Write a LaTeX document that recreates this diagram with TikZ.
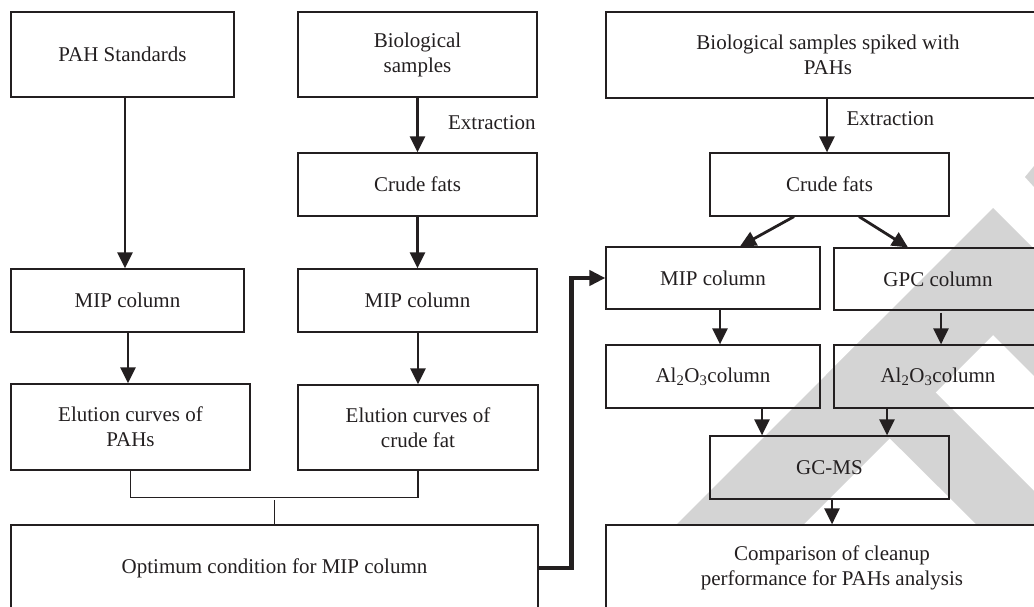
\documentclass[tikz,border=0pt]{standalone}
\usepackage{fontspec}
\setmainfont{Liberation Serif}
\usepackage{tikz}
\usetikzlibrary{arrows.meta}
\definecolor{ink}{RGB}{35,31,32}
\definecolor{wmgray}{RGB}{212,212,212}

\begin{document}
\begin{tikzpicture}[x=1pt, y=-1pt, font=\fontsize{21}{25}\selectfont,
      every node/.style={draw=ink, line width=1.2pt, inner sep=0pt, align=center, text=ink},
      flow/.style={draw=ink, line width=2.8pt, -{Triangle[length=16pt, width=15pt]}},
      link/.style={draw=ink, line width=1.2pt}]
    \path[use as bounding box, clip] (0,0) rectangle (1034,607);
    \begin{scope}
      \clip (600,150) rectangle (1034,525);
      \fill[wmgray] (676,525) -- (993,208) -- (1100,315) -- (1100,442) -- (993,335) -- (803,525) -- cycle;
      \fill[wmgray] (872,329) -- (1068,525) -- (977,525) -- (826,375) -- cycle;
      \fill[wmgray] (1034,166) -- (1025,177) -- (1034,187) -- cycle;
    \end{scope}
    \node[minimum width=223pt, minimum height=85pt] (PAH) at (122.5,54.5) {PAH Standards};
    \node[minimum width=233pt, minimum height=63pt] (MIP1) at (127.5,300.5) {MIP column};
    \node[minimum width=239pt, minimum height=86pt] (Elu1) at (130.5,427) {Elution curves of\\PAHs};
    \node[minimum width=239pt, minimum height=85pt] (Bio) at (417.5,54.5) {Biological\\samples};
    \node[minimum width=239pt, minimum height=63pt] (Fat1) at (417.5,184.5) {Crude fats};
    \node[minimum width=239pt, minimum height=63pt] (MIP2) at (417.5,300.5) {MIP column};
    \node[minimum width=240pt, minimum height=85pt] (Elu2) at (418,427.5) {Elution curves of\\crude fat};
    \node[minimum width=527pt, minimum height=86pt] (Opt) at (274.5,568) {Optimum condition for MIP column};
    \node[minimum width=444pt, minimum height=86pt] (Spk) at (828,55) {Biological samples spiked with\\PAHs};
    \node[minimum width=239pt, minimum height=63pt] (Fat2) at (829.5,184.5) {Crude fats};
    \node[minimum width=214pt, minimum height=62pt] (MIP3) at (713,278) {MIP column};
    \node[minimum width=208pt, minimum height=62pt] (GPC) at (938,279) {GPC column};
    \node[minimum width=214pt, minimum height=63pt] (Al1) at (713,376.5) {Al\textsubscript{2}O\textsubscript{3}column};
    \node[minimum width=208pt, minimum height=63pt] (Al2) at (938,376.5) {Al\textsubscript{2}O\textsubscript{3}column};
    \node[minimum width=239pt, minimum height=63pt] (GCMS) at (829.5,467.5) {GC-MS};
    \node[minimum width=452pt, minimum height=86pt] (Cmp) at (832,568) {Comparison of cleanup\\performance for PAHs analysis};
    \draw[flow] ([xshift=2.5pt]PAH.south) -- ([xshift=-2.5pt]MIP1.north);
    \draw[flow] ([xshift=0.5pt]MIP1.south) -- ([xshift=-2.5pt]Elu1.north);
    \draw[flow] (Bio) -- (Fat1) node[midway, anchor=west, draw=none, xshift=30pt, yshift=2pt] {Extraction};
    \draw[flow] (Fat1) -- (MIP2);
    \draw[flow] ([xshift=0.5pt]MIP2.south) -- (Elu2.north);
    \draw[link] (Elu1.south) -- ++(0,27) -| (Elu2.south);
    \draw[link] (Opt.north) -- ++(0,-24);
    \draw[flow, line width=4.5pt, -{Triangle[length=16pt, width=15pt]}] (Opt.east) -- ++(33,0) |- (MIP3.west);
    \draw[flow] ([xshift=-1pt]Spk.south) -- ([xshift=-2.5pt]Fat2.north) node[midway, anchor=west, draw=none, xshift=19pt, yshift=7pt] {Extraction};
    \draw[flow] ([xshift=-35.5pt]Fat2.south) -- ([xshift=27pt]MIP3.north);
    \draw[flow] ([xshift=29.5pt]Fat2.south) -- ([xshift=-30pt]GPC.north);
    \draw[flow] ([xshift=7pt]MIP3.south) -- ([xshift=7pt]Al1.north);
    \draw[flow] ([xshift=3pt, yshift=-2pt]GPC.south) -- ([xshift=3pt]Al2.north);
    \draw[flow] ([xshift=49pt]Al1.south) -- ([xshift=-67.5pt]GCMS.north);
    \draw[flow] ([xshift=-51pt]Al2.south) -- ([xshift=57.5pt]GCMS.north);
    \draw[flow] ([xshift=2.5pt]GCMS.south) -- ([xshift=0pt]Cmp.north);
\end{tikzpicture}
\end{document}
